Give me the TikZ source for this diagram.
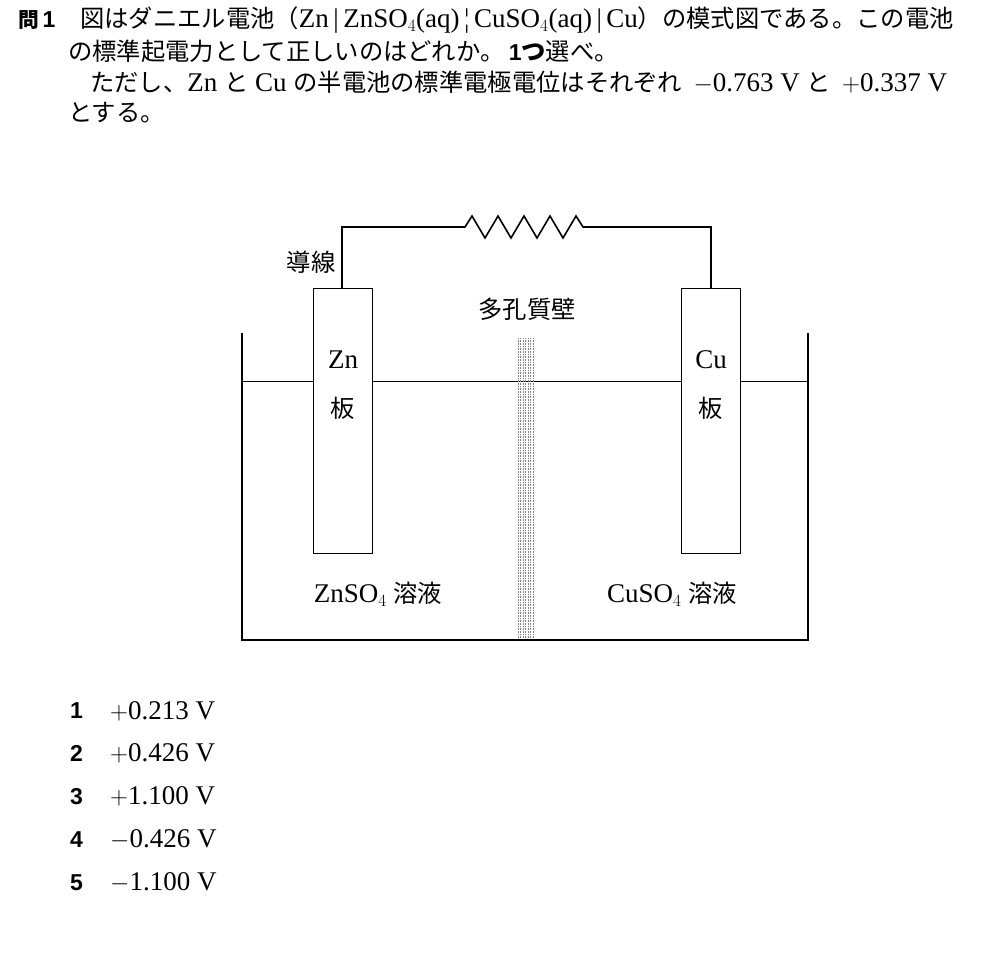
\documentclass[tikz,border=0pt]{standalone}
\usepackage{fontspec}
\setmainfont{Liberation Serif}
\newfontfamily\jp{Noto Sans CJK JP}[Scale=0.9]
\newfontfamily\bsans{Liberation Sans}
\begin{document}
\begin{tikzpicture}[x=1pt,y=-1pt,
    txt/.style={anchor=west,inner sep=0pt,font=\fontsize{27}{30}\selectfont},
    lab/.style={inner sep=0pt,font=\fontsize{27}{30}\selectfont},
    num/.style={anchor=west,inner sep=0pt,font=\fontsize{23}{28}\selectfont\bsans\bfseries}]
            \useasboundingbox (0,0) rectangle (1000,955);
            % question text
            \node[num] (q) at (18,20) {{\jp 問}\,1};
            \node[txt] (l1) at (80,20) {{\jp 図はダニエル電池（}Zn\,|\,ZnSO$_4$(aq)\,¦\,CuSO$_4$(aq)\,|\,Cu{\jp ）の模式図である。この電池}};
            \node[txt] (l2) at (68,51) {{\jp の標準起電力として正しいのはどれか。}\,{\bsans\bfseries\fontsize{23}{28}\selectfont 1}{\jp\bfseries つ}{\jp 選べ。}};
            \node[txt] (l3) at (90,82) {{\jp ただし、}Zn {\jp と} Cu {\jp の半電池の標準電極電位はそれぞれ} \,$-$0.763 V {\jp と} \,$+$0.337 V};
            \node[txt] (l4) at (68,113) {\jp とする。};
            % beaker
            \draw[line width=2pt] (242,333) -- (242,640) -- (808,640) -- (808,333);
            \draw[line width=0.8pt] (242,381) -- (808,381);
            % porous wall
            \foreach \x in {518,520.5,...,534} \draw[gray, densely dotted, line width=0.6pt] (\x,338) -- (\x,638);
            \node[lab] (wall) at (527,309) {\jp 多孔質壁};
            % plates
            \draw[fill=white, line width=0.8pt] (313,288) rectangle (372,553);
            \draw[fill=white, line width=0.8pt] (681,288) rectangle (740,553);
            \node[lab] (zn) at (343,360) {Zn};
            \node[lab] (znb) at (343,408) {\jp 板};
            \node[lab] (cu) at (711,360) {Cu};
            \node[lab] (cub) at (711,408) {\jp 板};
            % wire and resistor
            \draw[line width=1.6pt, line join=miter] (342,288) -- (342,227) -- (465,227) -- (472,216)
                \foreach \i in {0,...,3} { -- ++(13,22) -- ++(13,-22) } -- (583,227) -- (711,227) -- (711,288);
            \node[lab] (wire) at (311,262) {\jp 導線};
            % solutions
            \node[lab] (zns) at (378,594) {ZnSO$_4$ {\jp 溶液}};
            \node[lab] (cus) at (672,594) {CuSO$_4$ {\jp 溶液}};
            % choices
            \foreach \n/\v [count=\k] in {1/$+$0.213 V, 2/$+$0.426 V, 3/$+$1.100 V, 4/$-$0.426 V, 5/$-$1.100 V} {
                \node[num] (n\k) at (70,{711+42.8*(\k-1)}) {\n};
                \node[txt] (v\k) at (110,{711+42.8*(\k-1)}) {\v};
            }
        \end{tikzpicture}
\end{document}
